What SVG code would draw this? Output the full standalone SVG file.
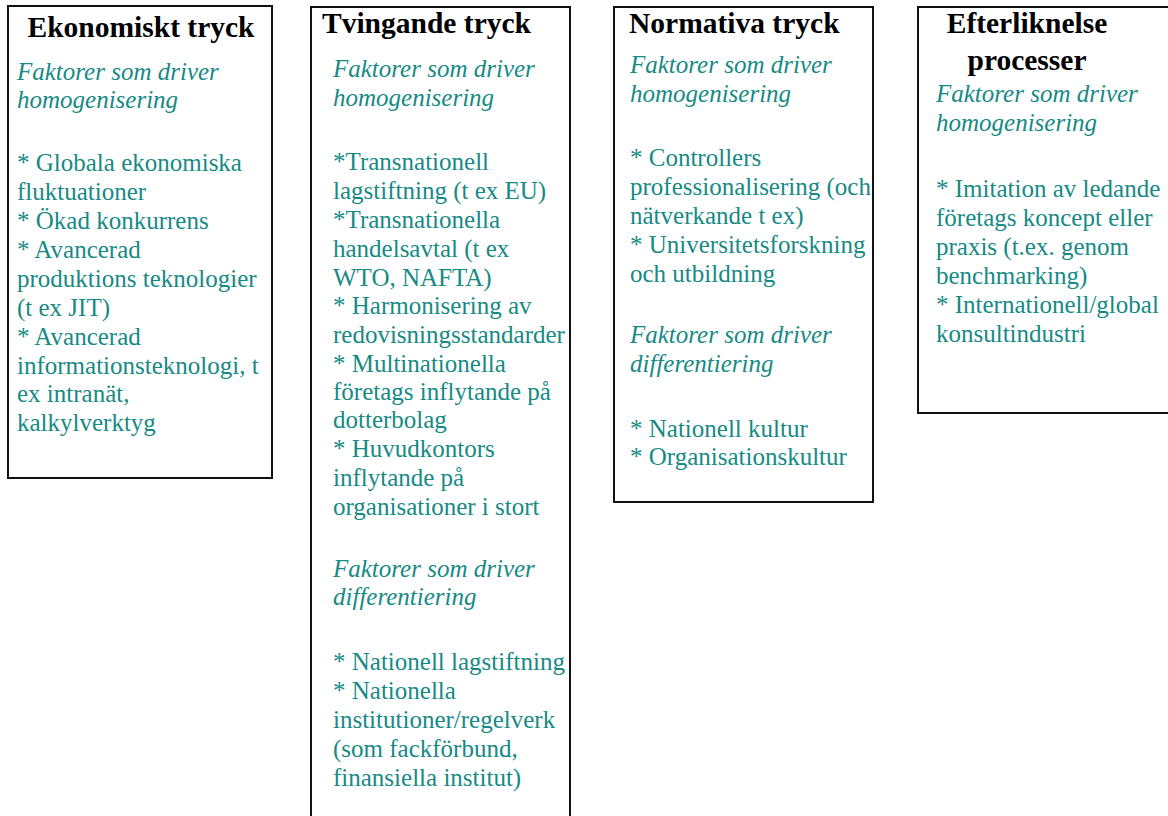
<svg xmlns="http://www.w3.org/2000/svg" width="1168" height="816" viewBox="0 0 1168 816">
<style>
.box{fill:#fff;stroke:#111;stroke-width:2}
.t{font-family:"Liberation Serif","Times New Roman",serif;font-weight:bold;font-size:29.5px;fill:#000}
.b{font-family:"Liberation Serif","Times New Roman",serif;font-size:25px;fill:#168a84}
.i{font-style:italic}
</style>
<rect width="1168" height="816" fill="#fff"/>
<g id="ekonomiskt">
<rect class="box" x="8" y="6" width="264" height="472"/>
<text class="t" x="141" y="37" text-anchor="middle">Ekonomiskt tryck</text>
<text class="b i" x="17" y="80">Faktorer som driver</text>
<text class="b i" x="17" y="108">homogenisering</text>
<text class="b" x="17" y="171">* Globala ekonomiska</text>
<text class="b" x="17" y="200">fluktuationer</text>
<text class="b" x="17" y="229">* Ökad konkurrens</text>
<text class="b" x="17" y="258">* Avancerad</text>
<text class="b" x="17" y="287">produktions teknologier</text>
<text class="b" x="17" y="316">(t ex JIT)</text>
<text class="b" x="17" y="345">* Avancerad</text>
<text class="b" x="17" y="374">informationsteknologi, t</text>
<text class="b" x="17" y="402">ex intranät,</text>
<text class="b" x="17" y="431">kalkylverktyg</text>
</g>
<g id="tvingande">
<rect class="box" x="311" y="7" width="259" height="830"/>
<text class="t" x="322" y="33">Tvingande tryck</text>
<text class="b i" x="333" y="77">Faktorer som driver</text>
<text class="b i" x="333" y="106">homogenisering</text>
<text class="b" x="333" y="170">*Transnationell</text>
<text class="b" x="333" y="199">lagstiftning (t ex EU)</text>
<text class="b" x="333" y="228">*Transnationella</text>
<text class="b" x="333" y="257">handelsavtal (t ex</text>
<text class="b" x="333" y="286">WTO, NAFTA)</text>
<text class="b" x="333" y="314">* Harmonisering av</text>
<text class="b" x="333" y="343">redovisningsstandarder</text>
<text class="b" x="333" y="372">* Multinationella</text>
<text class="b" x="333" y="400">företags inflytande på</text>
<text class="b" x="333" y="428">dotterbolag</text>
<text class="b" x="333" y="457">* Huvudkontors</text>
<text class="b" x="333" y="486">inflytande på</text>
<text class="b" x="333" y="515">organisationer i stort</text>
<text class="b i" x="333" y="577">Faktorer som driver</text>
<text class="b i" x="333" y="605">differentiering</text>
<text class="b" x="333" y="670">* Nationell lagstiftning</text>
<text class="b" x="333" y="699">* Nationella</text>
<text class="b" x="333" y="728">institutioner/regelverk</text>
<text class="b" x="333" y="757">(som fackförbund,</text>
<text class="b" x="333" y="786">finansiella institut)</text>
</g>
<g id="normativa">
<rect class="box" x="614" y="7" width="259" height="495"/>
<text class="t" x="629" y="33">Normativa tryck</text>
<text class="b i" x="630" y="73">Faktorer som driver</text>
<text class="b i" x="630" y="102">homogenisering</text>
<text class="b" x="630" y="166">* Controllers</text>
<text class="b" x="630" y="195">professionalisering (och</text>
<text class="b" x="630" y="224">nätverkande t ex)</text>
<text class="b" x="630" y="253">* Universitetsforskning</text>
<text class="b" x="630" y="282">och utbildning</text>
<text class="b i" x="630" y="343">Faktorer som driver</text>
<text class="b i" x="630" y="372">differentiering</text>
<text class="b" x="630" y="437">* Nationell kultur</text>
<text class="b" x="630" y="465">* Organisationskultur</text>
</g>
<g id="efterliknelse">
<rect class="box" x="918" y="7" width="260" height="406"/>
<text class="t" x="1027" y="33" text-anchor="middle">Efterliknelse</text>
<text class="t" x="1027" y="70" text-anchor="middle">processer</text>
<text class="b i" x="936" y="102">Faktorer som driver</text>
<text class="b i" x="936" y="131">homogenisering</text>
<text class="b" x="936" y="197">* Imitation av ledande</text>
<text class="b" x="936" y="226">företags koncept eller</text>
<text class="b" x="936" y="255">praxis (t.ex. genom</text>
<text class="b" x="936" y="284">benchmarking)</text>
<text class="b" x="936" y="313">* Internationell/global</text>
<text class="b" x="936" y="342">konsultindustri</text>
</g>
<g id="connectors"></g>
</svg>
